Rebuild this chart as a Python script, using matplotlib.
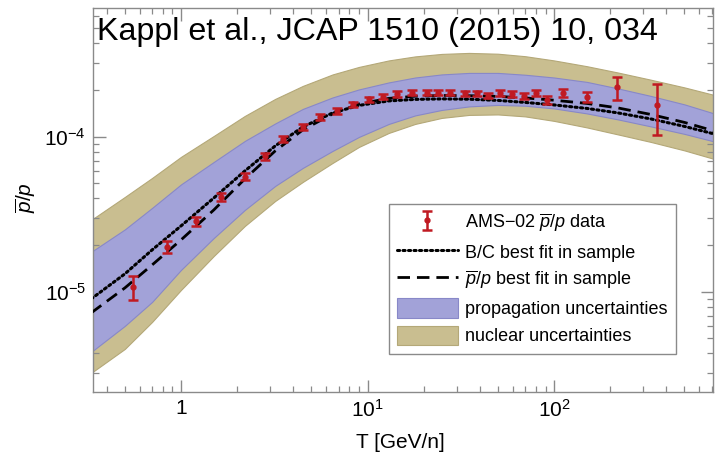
import matplotlib
matplotlib.use("Agg")
import matplotlib.pyplot as plt
from matplotlib.ticker import LogLocator, FixedLocator, FixedFormatter, NullFormatter

plt.rcParams["font.family"] = ["Liberation Sans", "DejaVu Sans"]
plt.rcParams["mathtext.fontset"] = "custom"
plt.rcParams["mathtext.rm"] = "Liberation Sans"
plt.rcParams["mathtext.it"] = "Liberation Sans:italic"
plt.rcParams["mathtext.bf"] = "Liberation Sans:bold"

# kinetic energy grid for the model curves [GeV/n]
T_model = [0.33, 0.5, 0.7, 1.0, 1.5, 2.2, 3.2, 4.5, 6.5, 9, 13, 18, 25, 35,
           50, 70, 100, 150, 220, 330, 500, 720]

nuclear_hi = [2.90e-5, 4.08e-5, 5.41e-5, 7.40e-5, 1.010e-4, 1.360e-4, 1.751e-4,
              2.124e-4, 2.519e-4, 2.816e-4, 3.101e-4, 3.292e-4, 3.416e-4, 3.467e-4,
              3.426e-4, 3.302e-4, 3.101e-4, 2.846e-4, 2.591e-4, 2.329e-4, 2.077e-4,
              1.858e-4]
nuclear_lo = [2.988e-6, 4.268e-6, 6.374e-6, 1.025e-5, 1.699e-5, 2.653e-5, 3.846e-5,
              5.102e-5, 6.766e-5, 8.58e-5, 1.056e-4, 1.207e-4, 1.320e-4, 1.380e-4,
              1.390e-4, 1.350e-4, 1.263e-4, 1.146e-4, 1.033e-4, 9.24e-5, 8.147e-5,
              7.18e-5]
prop_hi = [1.804e-5, 2.519e-5, 3.467e-5, 4.916e-5, 6.866e-5, 9.38e-5, 1.216e-4,
           1.509e-4, 1.790e-4, 2.016e-4, 2.237e-4, 2.406e-4, 2.519e-4, 2.576e-4,
           2.576e-4, 2.507e-4, 2.406e-4, 2.254e-4, 2.046e-4, 1.830e-4, 1.614e-4,
           1.411e-4]
prop_lo = [4.08e-6, 6.01e-6, 8.58e-6, 1.380e-5, 2.220e-5, 3.366e-5, 4.807e-5,
           6.281e-5, 8.087e-5, 9.954e-5, 1.207e-4, 1.370e-4, 1.486e-4, 1.566e-4,
           1.601e-4, 1.582e-4, 1.520e-4, 1.411e-4, 1.291e-4, 1.164e-4, 1.041e-4,
           9.31e-5]
bc_fit = [8.97e-6, 1.301e-5, 1.858e-5, 2.653e-5, 4.022e-5, 6.006e-5, 8.71e-5,
          1.155e-4, 1.422e-4, 1.590e-4, 1.699e-4, 1.738e-4, 1.751e-4, 1.743e-4,
          1.712e-4, 1.662e-4, 1.601e-4, 1.520e-4, 1.422e-4, 1.301e-4, 1.164e-4,
          1.041e-4]
pbar_fit = [7.29e-6, 1.056e-5, 1.486e-5, 2.155e-5, 3.366e-5, 5.336e-5, 8.087e-5,
            1.105e-4, 1.401e-4, 1.625e-4, 1.764e-4, 1.822e-4, 1.844e-4, 1.836e-4,
            1.817e-4, 1.777e-4, 1.717e-4, 1.637e-4, 1.531e-4, 1.390e-4, 1.235e-4,
            1.088e-4]

# AMS-02 antiproton-to-proton ratio
T_ams = [0.553, 0.845, 1.20, 1.64, 2.19, 2.82, 3.54, 4.53, 5.56, 6.89, 8.39, 10.2,
         12.15, 14.3, 17.3, 20.8, 24.0, 27.7, 33.3, 38.5, 44.4, 51.3, 59.3, 69.0,
         80.1, 91.4, 112, 150, 217, 355]
ratio_ams = [1.07e-5, 1.95e-5, 2.85e-5, 4.08e-5, 5.52e-5, 7.45e-5, 9.66e-5, 1.160e-4,
             1.334e-4, 1.465e-4, 1.618e-4, 1.743e-4, 1.811e-4, 1.886e-4, 1.922e-4,
             1.920e-4, 1.920e-4, 1.920e-4, 1.905e-4, 1.905e-4, 1.838e-4, 1.905e-4,
             1.877e-4, 1.838e-4, 1.905e-4, 1.725e-4, 1.905e-4, 1.811e-4, 2.083e-4,
             1.60e-4]
err_ams = [1.85e-6, 1.7e-6, 1.9e-6, 2.5e-6, 3.0e-6, 3.5e-6, 4.5e-6, 5e-6, 5.5e-6,
           6e-6, 6.5e-6, 7e-6, 7e-6, 7.5e-6, 7.5e-6, 7.5e-6, 7.5e-6, 7.5e-6, 7.5e-6,
           7.5e-6, 7.5e-6, 8e-6, 8e-6, 8.5e-6, 9e-6, 9.5e-6, 1.1e-5, 1.4e-5, 3.5e-5,
           5.8e-5]

x_ticks = [1, 10, 100]
x_ticklabels = ["1", r"$10^{1}$", r"$10^{2}$"]
y_ticks = [1e-5, 1e-4]
y_ticklabels = [r"$10^{-5}$", r"$10^{-4}$"]

NUC_COLOR = "#C9BE90"
PROP_COLOR = "#A2A2D8"
RED = "#C01A22"
FRAME = "#8a8a8a"

fig = plt.figure(figsize=(7.21, 4.53), dpi=100)
ax = fig.add_axes([0.129, 0.1347, 0.860, 0.8477])

ax.fill_between(T_model, nuclear_lo, nuclear_hi, facecolor=NUC_COLOR,
                edgecolor="#B4A878", linewidth=0.8, zorder=1,
                label="nuclear uncertainties")
ax.fill_between(T_model, prop_lo, prop_hi, facecolor=PROP_COLOR,
                edgecolor="#8888C8", linewidth=0.8, zorder=2,
                label="propagation uncertainties")
ax.plot(T_model, bc_fit, color="black", linewidth=2.2,
        linestyle=(0, (0.7, 1.1)), dash_capstyle="round", zorder=3,
        label="B/C best fit in sample")
ax.plot(T_model, pbar_fit, color="black", linewidth=2.0,
        linestyle=(0, (4.5, 2.5)), zorder=3,
        label=r"$\overline{p}/p$ best fit in sample")
ax.errorbar(T_ams, ratio_ams, yerr=err_ams, fmt="o", color=RED, markersize=3.5,
            elinewidth=1.8, capsize=3.5, capthick=1.8, zorder=4,
            label=r"AMS$-$02 $\overline{p}/p$ data")

ax.set_xscale("log")
ax.set_yscale("log")
ax.set_xlim(0.3374, 712)
ax.set_ylim(2.25e-6, 6.76e-4)

ax.xaxis.set_major_locator(FixedLocator(x_ticks))
ax.xaxis.set_major_formatter(FixedFormatter(x_ticklabels))
ax.xaxis.set_minor_locator(LogLocator(base=10, subs=range(2, 10)))
ax.xaxis.set_minor_formatter(NullFormatter())
ax.yaxis.set_major_locator(FixedLocator(y_ticks))
ax.yaxis.set_major_formatter(FixedFormatter(y_ticklabels))
ax.yaxis.set_minor_locator(LogLocator(base=10, subs=range(2, 10)))
ax.yaxis.set_minor_formatter(NullFormatter())

ax.tick_params(which="both", direction="in", top=True, right=True,
               color=FRAME, labelsize=15, labelcolor="black")
ax.tick_params(which="major", length=9, width=1.0, pad=5)
ax.tick_params(which="minor", length=4.5, width=0.9)
for s in ax.spines.values():
    s.set_color(FRAME)
    s.set_linewidth(1.0)

ax.set_xlabel("T [GeV/n]", fontsize=15)
ax.xaxis.set_label_coords(0.495, -0.108)
ax.set_ylabel(r"$\overline{p}/p$", fontsize=15)
ax.yaxis.set_label_coords(-0.089, 0.505)

ax.text(0.0065, 0.9167, "Kappl et al., JCAP 1510 (2015) 10, 034", transform=ax.transAxes,
        fontsize=23.2, va="baseline", ha="left", color="black", zorder=6)

handles, labels = ax.get_legend_handles_labels()
order = [labels.index(l) for l in [r"AMS$-$02 $\overline{p}/p$ data",
                                   "B/C best fit in sample",
                                   r"$\overline{p}/p$ best fit in sample",
                                   "propagation uncertainties",
                                   "nuclear uncertainties"]]
leg = ax.legend([handles[i] for i in order], [labels[i] for i in order],
                loc="lower right", bbox_to_anchor=(0.940, 0.100), fontsize=13,
                frameon=True, fancybox=False, edgecolor=FRAME, framealpha=1,
                handlelength=3.4, handleheight=1.3, handletextpad=0.4,
                labelspacing=0.4, borderpad=0.45, borderaxespad=0)
leg.get_frame().set_linewidth(1.0)
leg.set_zorder(5)

fig.savefig("out.png", dpi=100)
